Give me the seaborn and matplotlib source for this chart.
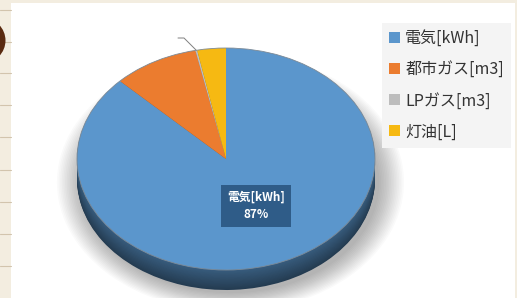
import numpy as np
import seaborn as sns
import matplotlib.pyplot as plt
from matplotlib.patches import Rectangle, Ellipse
from matplotlib.lines import Line2D
from matplotlib.colors import to_rgb

sns.set_style("white")
plt.rcParams['font.family'] = ['Noto Sans CJK JP', 'DejaVu Sans']

# data
labels = ["電気[kWh]", "都市ガス[m3]", "LPガス[m3]", "灯油[L]"]
shares = [87.4, 9.3, 0.2, 3.1]
colors = ["#5b96cc", "#eb7c2f", "#bdbdbd", "#f6b912"]

W, H = 517, 298
cx, cy, rx, ry = 226, 159, 149, 111   # pie centre / radii in pixels
depth = 20 / ry

def X(px):
    return (px - cx) / rx

def Y(py):
    return (cy - py) / ry

fig = plt.figure(figsize=(W / 100, H / 100), dpi=100, facecolor="#f3ede0")

# page decoration
fig.patches.append(Rectangle((11 / W, 0), (515 - 11) / W, (H - 3) / H,
                             transform=fig.transFigure, facecolor="white",
                             edgecolor="none", zorder=-2))
for y in [10, 42, 73, 105, 137, 170, 202, 234, 266]:
    fig.add_artist(Line2D([0, 11 / W], [1 - y / H] * 2, color="#d2c4ad", lw=0.8,
                          zorder=-1))
fig.patches.append(Ellipse((-17 / W, 1 - 40.5 / H), 45 / W, 45 / H,
                           transform=fig.transFigure, facecolor="#5a2a10",
                           edgecolor="none", zorder=-1))

ax = fig.add_axes([0, 0, 1, 1])
ax.patch.set_alpha(0)

# soft shadow
for i in range(16):
    s = 1 + 0.011 * i
    ax.add_patch(Ellipse((0.03, -depth - 0.03), 2 * s, 2 * s,
                         facecolor="black", edgecolor="none", alpha=0.02, zorder=0))

# side of the 3D pie
n = 24
for k in range(n, 0, -1):
    t = k / n
    side = [tuple(np.array(to_rgb(c)) * (0.62 - 0.22 * t)) for c in colors]
    ax.pie(shares, colors=side, startangle=90, counterclock=False,
           center=(0, -depth * t), radius=1,
           wedgeprops=dict(edgecolor="none", linewidth=0))

# top face
wedges, _ = ax.pie(shares, colors=colors, startangle=90, counterclock=False,
                   center=(0, 0), radius=1,
                   wedgeprops=dict(edgecolor="none", linewidth=0))
ax.add_patch(Ellipse((0, 0), 2, 2, facecolor="none", edgecolor="#7d8a96",
                     lw=0.6, zorder=5))

# leader line to the tiny LP slice
w = wedges[2]
mid = np.deg2rad((w.theta1 + w.theta2) / 2)
ax.plot([np.cos(mid), X(184), X(178)], [np.sin(mid), Y(38), Y(38)],
        color="#7f7f7f", lw=0.7)

# data label of the largest slice
ax.text(X(256), Y(206), f"{labels[0]}\n{shares[0]:.0f}%", ha="center", va="center",
        color="white", fontsize=8.5, fontweight="bold", linespacing=1.4,
        bbox=dict(boxstyle="square,pad=0.5", facecolor="#2f5c88", edgecolor="none"))

ax.set_aspect("auto")
ax.set_xlim(X(0), X(W))
ax.set_ylim(Y(H), Y(0))
ax.set_axis_off()

leg = ax.legend(wedges, labels, loc="upper left",
                bbox_to_anchor=(382 / W, 1 - 23 / H), bbox_transform=fig.transFigure,
                borderaxespad=0, frameon=True, facecolor="#f4f4f4", edgecolor="none",
                framealpha=1, fancybox=False, fontsize=11.5, handlelength=0.65,
                handleheight=0.65, handletextpad=0.35, labelspacing=0.88,
                borderpad=0.45, labelcolor="#333333")

fig.savefig("out.png", dpi=100, facecolor=fig.get_facecolor())
plt.close()
